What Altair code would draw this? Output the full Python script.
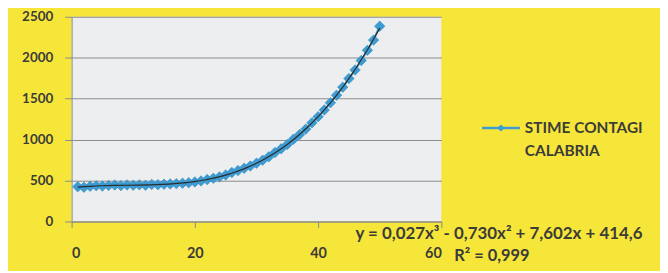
import altair as alt
import pandas as pd

days = list(range(1, 51))
stime = [425, 418, 430, 436, 433, 440, 445, 438, 446, 443,
         447, 442, 452, 449, 455, 458, 462, 468, 474, 483,
         495, 512, 528, 545, 568, 598, 622, 650, 678, 712,
         748, 790, 842, 888, 940, 1005, 1062, 1128, 1205, 1280,
         1362, 1450, 1542, 1640, 1745, 1850, 1965, 2090, 2215, 2385]
x_ticks = [0, 20, 40, 60]
y_ticks = [0, 500, 1000, 1500, 2000, 2500]
legend_label = "STIME CONTAGI\nCALABRIA"
equation = "y = 0,027x³ - 0,730x² + 7,602x + 414,6"
r2_text = "R² = 0,999"

BLUE = "#3E9CD2"
YELLOW = "#F7E63A"
TXT = "#3C3C38"
FONT = "Lato"

df = pd.DataFrame({"x": days, "y": stime})
one = pd.DataFrame({"k": [0]})

xenc = alt.X("x:Q", scale=alt.Scale(domain=[0, 60], nice=False),
             axis=alt.Axis(values=x_ticks, title=None, grid=False, format="d",
                           tickSize=6, labelPadding=19, domainColor="#8A8A8A",
                           tickColor="#8A8A8A", labelFontSize=14.5, labelFontWeight="bold",
                           labelColor=TXT, labelFont=FONT))
yenc = alt.Y("y:Q", scale=alt.Scale(domain=[0, 2500], nice=False),
             axis=alt.Axis(values=y_ticks, title=None, grid=True, gridColor="#8C8C8C",
                           gridWidth=1, tickSize=7, labelPadding=12, format="d",
                           domainColor="#8A8A8A", tickColor="#8A8A8A",
                           labelFontSize=13.5, labelFontWeight="bold",
                           labelColor=TXT, labelFont=FONT))

base = alt.Chart(df)
line = base.mark_line(color=BLUE, strokeWidth=2).encode(x=xenc, y=yenc)
pts = base.mark_point(shape="diamond", filled=True, size=110, color=BLUE,
                      stroke="#2F8AC0", strokeWidth=0.6,
                      opacity=1).encode(x=xenc, y=yenc)
trend = base.transform_regression("x", "y", method="poly", order=3).mark_line(
    color="#2A2A2A", strokeWidth=1.2).encode(x=xenc, y=yenc)

leg_rule = alt.Chart(one).mark_rule(color=BLUE, strokeWidth=2.5).encode(
    x=alt.value(413), x2=alt.value(451), y=alt.value(112))
leg_pt = alt.Chart(one).mark_point(shape="diamond", filled=True, size=50,
                                   color=BLUE, opacity=1).encode(
    x=alt.value(432), y=alt.value(112))
leg_txt = alt.Chart(one).mark_text(align="left", baseline="middle", fontSize=15.5,
                                   fontWeight="bold", color=TXT, font=FONT,
                                   lineBreak="\n", lineHeight=23).encode(
    x=alt.value(456), y=alt.value(112), text=alt.value(legend_label))

eq_txt = alt.Chart(one).mark_text(align="center", baseline="middle", fontSize=17,
                                  fontWeight="bold", color=TXT, font=FONT).encode(
    x=alt.value(430), y=alt.value(219), text=alt.value(equation))
r2_mark = alt.Chart(one).mark_text(align="left", baseline="middle", fontSize=16.5,
                                   fontWeight="bold", color=TXT, font=FONT).encode(
    x=alt.value(385), y=alt.value(241), text=alt.value(r2_text))

chart = alt.layer(line, pts, trend, leg_rule, leg_pt, leg_txt, eq_txt, r2_mark).properties(
    width=372, height=206,
    autosize=alt.AutoSizeParams(type="none"),
    padding={"left": 64, "top": 8, "right": 220, "bottom": 49},
    background=YELLOW,
).configure_view(fill="#EDEEF0", stroke=None)

chart.save("out.html", embed_options={"renderer": "svg", "actions": False})
